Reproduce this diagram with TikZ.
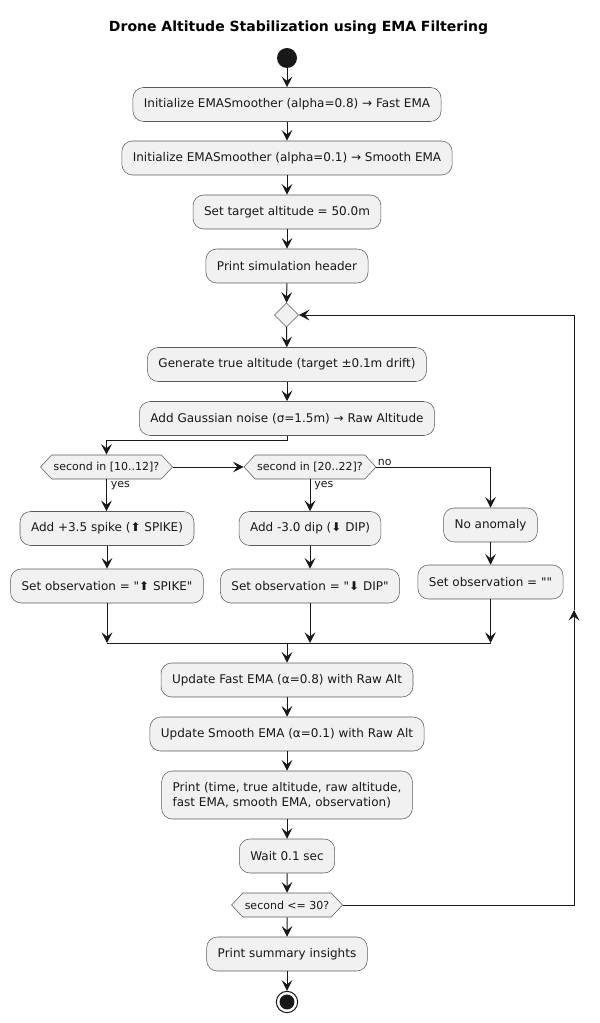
\documentclass[tikz,border=0pt]{standalone}
\usepackage{fontspec}
\setmainfont{DejaVu Sans}
\usepackage{xcolor}
\usetikzlibrary{arrows.meta,shapes.geometric,shapes.symbols}
\definecolor{boxfill}{HTML}{F1F1F1}
\definecolor{boxline}{HTML}{5A5A5A}
\definecolor{ink}{HTML}{181818}

\begin{document}
\begin{tikzpicture}[x=0.75pt,y=0.75pt,yscale=-1,xscale=1,
  act/.style={draw=boxline, line width=0.4pt, fill=boxfill, rounded corners=8pt,
    minimum height=25.5pt, inner xsep=8.25pt, inner ysep=2pt,
    font=\fontsize{9}{11.25}\selectfont, text=ink},
  choice/.style={draw=boxline, line width=0.4pt, fill=boxfill, shape=signal,
    signal to=east and west, signal pointer angle=94, minimum height=18pt,
    inner xsep=1.5pt, inner ysep=1pt, font=\fontsize{8.25}{10}\selectfont, text=ink},
  merger/.style={draw=boxline, line width=0.4pt, fill=boxfill, diamond,
    minimum size=18pt, inner sep=0pt},
  lbl/.style={font=\fontsize{8.25}{10}\selectfont, text=ink, inner sep=1pt},
  flow/.style={draw=ink, line width=0.75pt, -{Stealth[length=8pt,width=8pt,inset=3.2pt]}},
  wire/.style={draw=ink, line width=0.75pt}]
\useasboundingbox (0,0) rectangle (599,1023);
% Title
\node[font=\bfseries\fontsize{10.5}{12}\selectfont, text=black] (title) at (298.5,28) {Drone Altitude Stabilization using EMA Filtering};
% Start / stop
\node[circle, fill=ink, minimum size=15pt, inner sep=0pt] (start) at (287,58) {};
\node[circle, draw=ink, line width=0.75pt, fill=white, minimum size=16pt, inner sep=0pt,
  path picture={\fill[ink] (path picture bounding box.center) circle (5.6pt);}] (stop) at (287,1002) {};
% Setup steps
\node[act] (initfast) at (287,104.5) {Initialize EMASmoother (alpha=0.8) → Fast EMA};
\node[act] (initsmooth) at (287,158) {Initialize EMASmoother (alpha=0.1) → Smooth EMA};
\node[act] (target) at (287,212) {Set target altitude = 50.0m};
\node[act] (header) at (287,266) {Print simulation header};
% Loop body
\node[merger] (loopin) at (286.5,315) {};
\node[act] (truealt) at (287,364.5) {Generate true altitude (target ±0.1m drift)};
\node[act] (noise) at (287,418.5) {Add Gaussian noise (σ=1.5m) → Raw Altitude};
\node[choice] (spikeq) at (106.5,467) {second in [10..12]?};
\node[choice] (dipq) at (310,467) {second in [20..22]?};
\node[act] (spike) at (107,528.5) {Add +3.5 spike (⬆ SPIKE)};
\node[act] (obsspike) at (107,586) {Set observation = \textquotedbl⬆ SPIKE\textquotedbl};
\node[act] (dip) at (310,528.5) {Add -3.0 dip (⬇ DIP)};
\node[act] (obsdip) at (310,586) {Set observation = \textquotedbl⬇ DIP\textquotedbl};
\node[act] (noanom) at (490.5,525) {No anomaly};
\node[act] (obsnone) at (490.5,582) {Set observation = \textquotedbl\textquotedbl};
\node[act] (fastema) at (287,680) {Update Fast EMA (α=0.8) with Raw Alt};
\node[act] (smoothema) at (287,734) {Update Smooth EMA (α=0.1) with Raw Alt};
\node[act, align=left, minimum height=36pt] (printrow) at (287,795) {Print (time, true altitude, raw altitude,\\fast EMA, smooth EMA, observation)};
\node[act] (wait) at (287,856) {Wait 0.1 sec};
\node[choice] (check) at (287,905) {second <= 30?};
\node[act] (summary) at (287,954) {Print summary insights};
% Join and loop corners
\coordinate (joinm) at (287,643);
\coordinate (joinl) at (obsspike.south |- joinm);
\coordinate (joinr) at (obsnone.south |- joinm);
\coordinate (loopbot) at (574,905);
\coordinate (loopmid) at (574,610);
\coordinate (looptop) at (574,315);
% Straight flow
\draw[flow] (start) -- (initfast);
\draw[flow] (initfast) -- (initsmooth);
\draw[flow] (initsmooth) -- (target);
\draw[flow] (target) -- (header);
\draw[flow] (header) -- (loopin);
\draw[flow] (loopin) -- (truealt);
\draw[flow] (truealt) -- (noise);
\draw[flow] (noise.south) -- ++(0,5) -| (spikeq.north);
% Branches
\draw[flow] (spikeq.east) -- (dipq.west);
\draw[flow] (spikeq.south) -- (spikeq.south |- spike.north);
\node[lbl, anchor=north west] at ([xshift=2pt]spikeq.south) {yes};
\draw[flow] (dipq.south) -- (dipq.south |- dip.north);
\node[lbl, anchor=north west] at ([xshift=2pt]dipq.south) {yes};
\draw[flow] (dipq.east) -| (noanom.north);
\node[lbl, anchor=south west] at (dipq.east) {no};
\draw[flow] (spike) -- (obsspike);
\draw[flow] (dip) -- (obsdip);
\draw[flow] (noanom) -- (obsnone);
% Join
\draw[flow] (obsspike.south) -- (joinl);
\draw[flow] (obsdip.south) -- (obsdip.south |- joinm);
\draw[flow] (obsnone.south) -- (joinr);
\draw[wire] (joinl) -- (joinr);
\draw[flow] (joinm) -- (fastema);
\draw[flow] (fastema) -- (smoothema);
\draw[flow] (smoothema) -- (printrow);
\draw[flow] (printrow) -- (wait);
\draw[flow] (wait) -- (check);
\draw[flow] (check) -- (summary);
\draw[flow] (summary) -- (stop);
% Repeat
\draw[flow] (check.east) -- (loopbot) -- (loopmid);
\draw[flow] (loopmid) -- (looptop) -- (loopin.east);
\end{tikzpicture}
\end{document}
